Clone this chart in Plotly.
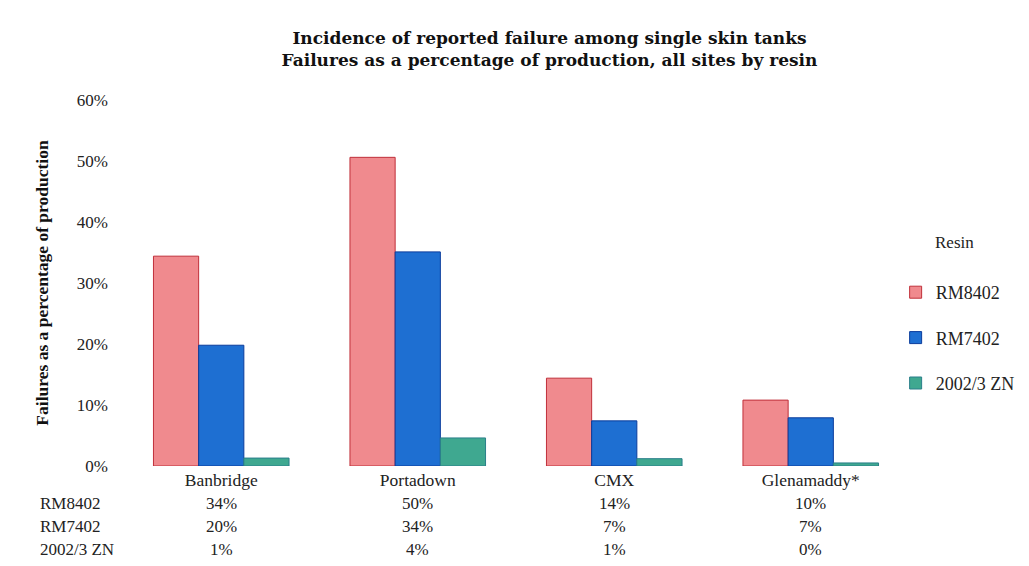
import plotly.graph_objects as go

categories = ["Banbridge", "Portadown", "CMX", "Glenamaddy*"]
series_names = ["RM8402", "RM7402", "2002/3 ZN"]
rm8402 = [34.4, 50.6, 14.4, 10.8]
rm7402 = [19.8, 35.1, 7.4, 7.9]
zn = [1.3, 4.6, 1.2, 0.5]
table_rm8402 = ["34%", "50%", "14%", "10%"]
table_rm7402 = ["20%", "34%", "7%", "7%"]
table_zn = ["1%", "4%", "1%", "0%"]
y_ticks = [0, 10, 20, 30, 40, 50, 60]
y_ticklabels = ["0%", "10%", "20%", "30%", "40%", "50%", "60%"]

fills = ["#F08A8E", "#1E6FD2", "#3FA890"]
lines = ["#C0303A", "#0A3C9C", "#2A7F8A"]
serif = "Liberation Serif"

fig = go.Figure()
for i, (name, vals) in enumerate(zip(series_names, [rm8402, rm7402, zn])):
    fig.add_trace(go.Bar(
        x=categories, y=vals, name=name,
        marker=dict(color=fills[i], line=dict(color=lines[i], width=1)),
        legendgroup=name,
    ))

# data table annotations
rows = [table_rm8402, table_rm7402, table_zn]
row_y = [503, 526, 549]
annotations = []
for r, (lab, vals) in enumerate(zip(series_names, rows)):
    yp = (566 - 100 - row_y[r]) / 366
    annotations.append(dict(text=lab, xref="paper", yref="paper", x=(38 - 123) / 786,
                            y=yp, xanchor="left", yanchor="middle",
                            showarrow=False, font=dict(family=serif, size=17, color="#222")))
    for c, v in zip(categories, vals):
        annotations.append(dict(text=v, xref="x", yref="paper", x=c,
                                y=yp, xanchor="center", yanchor="middle",
                                showarrow=False, font=dict(family=serif, size=17, color="#222")))

# legend title
annotations.append(dict(text="Resin", xref="paper", yref="paper", x=(955 - 123) / 786,
                        y=(466 - 242) / 366, xanchor="center", yanchor="middle",
                        showarrow=False, font=dict(family=serif, size=17, color="#222")))

fig.update_layout(
    width=1029, height=566,
    margin=dict(l=123, r=120, t=100, b=100, autoexpand=False),
    paper_bgcolor="white", plot_bgcolor="white",
    barmode="group", bargap=0.31, bargroupgap=0,
    title=dict(text="Incidence of reported failure among single skin tanks<br>Failures as a percentage of production, all sites by resin",
               x=0.534, xanchor="center", y=0.923, yanchor="top",
               font=dict(family="DejaVu Serif", size=17, color="#111", weight="bold")),
    font=dict(family=serif, size=17, color="#222"),
    legend=dict(x=0.983, y=(466 - 274) / 366, xanchor="left", yanchor="top",
                font=dict(family=serif, size=18, color="#222"),
                tracegroupgap=19, itemwidth=30, bgcolor="rgba(0,0,0,0)"),
    annotations=annotations,
    showlegend=True,
)
fig.update_yaxes(range=[0, 60], tickvals=y_ticks, ticktext=y_ticklabels, showgrid=False,
                 zeroline=False, showline=False, ticks="", ticklabelstandoff=14,
                 title=dict(text="<b>Failures as a percentage of production</b>", standoff=23,
                            font=dict(family=serif, size=17.5, color="#111")),
                 tickfont=dict(family=serif, size=17))
fig.update_xaxes(showgrid=False, showline=False, ticks="", tickfont=dict(family=serif, size=17.5),
                 ticklabelstandoff=1)

fig.write_html("out.html")
